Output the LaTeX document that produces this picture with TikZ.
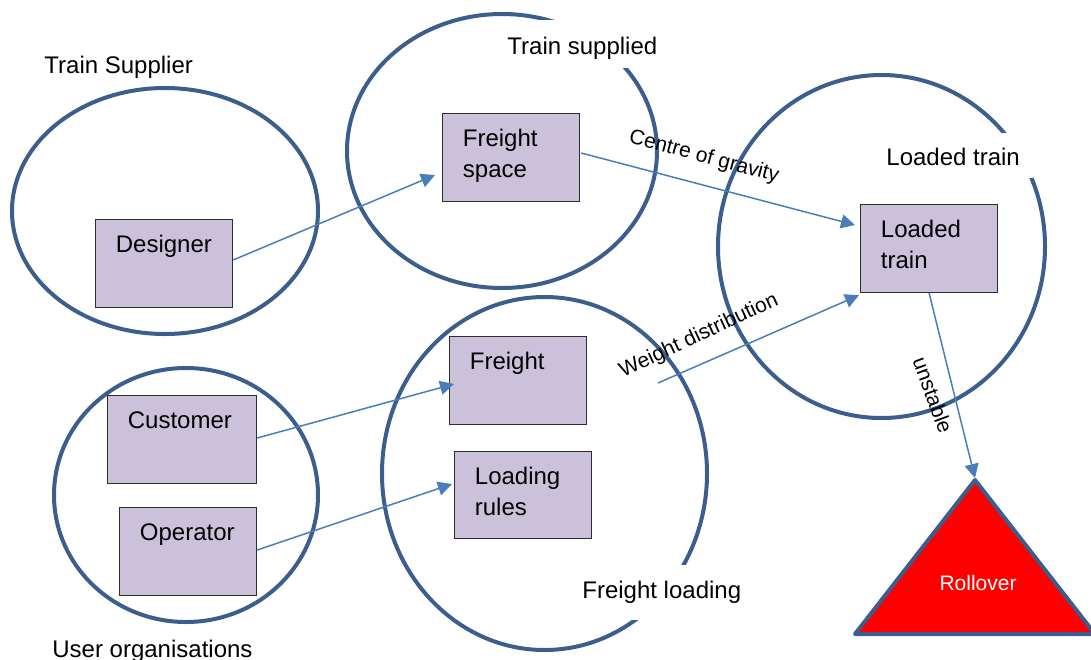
\documentclass[tikz,border=0pt]{standalone}
\usepackage{fontspec}
\setmainfont{Liberation Sans}
\usetikzlibrary{arrows.meta,calc}
\definecolor{ringblue}{HTML}{3B5E8C}
\definecolor{arrowblue}{HTML}{4A7EBB}
\definecolor{boxfill}{HTML}{CCC1DA}
\definecolor{boxline}{HTML}{2E2E2E}
\begin{document}
\begin{tikzpicture}[x=0.5pt,y=-0.5pt,
  ring/.style={draw=ringblue,line width=2pt},
  actor/.style={draw=boxline,fill=boxfill,line width=0.6pt,minimum width=68.5pt,
    minimum height=44pt,inner sep=0pt,anchor=north west},
  actortext/.style={anchor=base west,align=left,inner sep=0pt,
    font=\fontsize{12}{15.75}\selectfont},
  title/.style={anchor=base west,inner sep=0pt,font=\fontsize{12}{14}\selectfont},
  flow/.style={draw=arrowblue,line width=0.75pt,-{Triangle[length=7pt,width=7pt]}},
  flowlabel/.style={inner sep=0pt,font=\fontsize{10.5}{12}\selectfont}]
\useasboundingbox (0,0) rectangle (1091,659);

% groupings
\draw[ring] (165,211) ellipse [x radius=153, y radius=123];
\draw[ring] (502,151) ellipse [x radius=155, y radius=137];
\draw[ring] (881.5,246.5) ellipse [x radius=163.5, y radius=171.5];
\draw[ring] (544.5,473.5) ellipse [x radius=162.5, y radius=176.5];
\draw[ring] (186,495) ellipse [x radius=132, y radius=127];

% white backing behind group titles that sit on a ring
\fill[white] (493,20) rectangle (668,68);
\fill[white] (575,565) rectangle (745,620);
\fill[white] (875,133) rectangle (1033,178);

% group titles
\node[title] (t-supplier) at (44,73) {Train Supplier};
\node[title] (t-supplied) at (507,54) {Train supplied};
\node[title] (t-loaded)   at (886,165) {Loaded train};
\node[title] (t-loading)  at (582,598) {Freight loading};
\node[title] (t-users)    at (52,657) {User organisations};

% actors and items
\node[actor] (designer) at (95,219) {};
\node[actor] (fs)       at (442,113) {};
\node[actor] (lt)       at (860,204) {};
\node[actor] (freight)  at (449,336) {};
\node[actor,minimum height=43.5pt] (lr) at (454,451) {};
\node[actor,minimum width=74.5pt] (customer) at (107,395) {};
\node[actor] (operator) at (119,507) {};

% one-line captions: baseline 33 below the top edge; two-line captions are
% anchored on their last line, one line (31.5) further down
\node[actortext] (designer-t) at ($(designer.north west)+(20.5,33)$) {Designer};
\node[actortext] (fs-t)       at ($(fs.north west)+(20.5,64.5)$) {Freight\\space};
\node[actortext] (lt-t)       at ($(lt.north west)+(20.5,64.5)$) {Loaded\\train};
\node[actortext] (freight-t)  at ($(freight.north west)+(20.5,33)$) {Freight};
\node[actortext] (lr-t)       at ($(lr.north west)+(20.5,64.5)$) {Loading\\rules};
\node[actortext] (customer-t) at ($(customer.north west)+(20.5,33)$) {Customer};
\node[actortext] (operator-t) at ($(operator.north west)+(20.5,33)$) {Operator};

% outcome
\coordinate (apex) at (975,480);
\draw[draw=ringblue,fill=red,line width=2pt,line join=round]
  (apex) -- (855,634) -- (1095,634) -- cycle;
\node[inner sep=0pt,text=white,font=\fontsize{10.5}{12}\selectfont] (rollover) at (978,583) {Rollover};

% flows
\coordinate (wd-start) at (658,383);
\draw[flow] ($(designer.north east)+(0,41)$) -- ($(fs.north west)+(-7,62)$);
\draw[flow] ($(fs.north east)+(1,40)$) -- ($(lt.north west)+(-5,21)$);
\draw[flow] ($(customer.north east)+(0,43)$) -- ($(freight.north west)+(5,48)$);
\draw[flow] ($(operator.north east)+(0,43)$) -- ($(lr.north west)+(-2,33)$);
\draw[flow] (wd-start) -- ($(lt.south west)+(-1,2)$);
\draw[flow] (lt.south) -- ($(apex)+(0,-2)$);

% flow labels
\node[flowlabel,rotate=-15] (l-cog) at (704,157) {Centre of gravity};
\node[flowlabel,rotate=25]  (l-wd)  at (699,336) {Weight distribution};
\node[flowlabel,rotate=-70] (l-un)  at (933,395) {unstable};
\end{tikzpicture}
\end{document}
